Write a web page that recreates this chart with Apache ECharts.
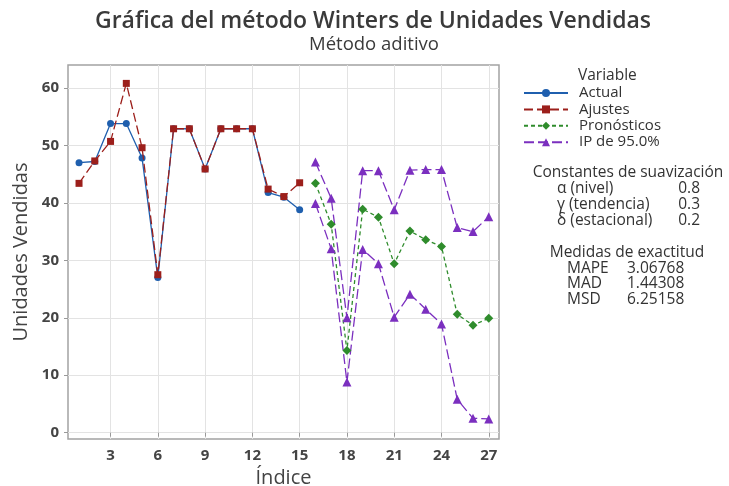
<!DOCTYPE html>
<html>
<head>
<meta charset="utf-8">
<script src="https://cdn.jsdelivr.net/npm/echarts@6/dist/echarts.min.js"></script>
<style>
  html, body { margin: 0; padding: 0; background: #fff; }
  #chart { width: 729px; height: 486px; }
</style>
</head>
<body>
<div id="chart"></div>
<script>
// Observed period (1..15) and forecast horizon (16..27)
const obsIndex = [1, 2, 3, 4, 5, 6, 7, 8, 9, 10, 11, 12, 13, 14, 15];
const fcIndex = [16, 17, 18, 19, 20, 21, 22, 23, 24, 25, 26, 27];

const actual = [47.0, 47.2, 53.8, 53.8, 47.8, 27.0, 52.9, 52.9, 45.9, 52.9, 52.9, 52.9, 41.8, 41.0, 38.8];
const fitted = [43.4, 47.3, 50.7, 60.8, 49.6, 27.5, 52.9, 52.9, 45.9, 52.9, 52.9, 52.9, 42.4, 41.1, 43.5];

const forecast = [43.4, 36.3, 14.3, 38.9, 37.5, 29.4, 35.1, 33.6, 32.4, 20.6, 18.7, 19.9];
const piUpper  = [47.1, 40.8, 20.0, 45.6, 45.6, 38.8, 45.7, 45.8, 45.8, 35.7, 35.0, 37.6];
const piLower  = [39.9, 32.0,  8.8, 31.9, 29.4, 20.1, 24.1, 21.5, 18.9,  5.8,  2.5,  2.4];

const xTicks = [3, 6, 9, 12, 15, 18, 21, 24, 27];
const yTicks = [0, 10, 20, 30, 40, 50, 60];

const smoothingLabels = ['α (nivel)', 'γ (tendencia)', 'δ (estacional)'];
const smoothingValues = ['0.8', '0.3', '0.2'];
const accuracyLabels = ['MAPE', 'MAD', 'MSD'];
const accuracyValues = ['3.06768', '1.44308', '6.25158'];

const FONT = '"Open Sans", "Noto Sans", sans-serif';
const PANEL_FONT = '15.5px ' + FONT;
const C_BLUE = '#1f5fae';
const C_RED = '#9c1f1b';
const C_GREEN = '#2f8c2c';
const C_PURPLE = '#7b2fbf';
const C_TEXT = '#333';

const pairs = (xs, ys) => xs.map((x, i) => [x, ys[i]]);

const chart = echarts.init(document.getElementById('chart'), null, { renderer: 'canvas' });

// Side panel text: smoothing constants and accuracy measures
const panel = [];
const txt = (x, y, text, align) => ({
  type: 'text', x, y,
  style: { text, font: PANEL_FONT, fill: C_TEXT, textAlign: align, textVerticalAlign: 'middle' }
});
panel.push(txt(578, 76, 'Variable', 'left'));
panel.push(txt(628, 173, 'Constantes de suavización', 'center'));
smoothingLabels.forEach((t, i) => {
  const y = 188.5 + i * 15.8;
  panel.push(txt(557, y, t, 'left'));
  panel.push(txt(700, y, smoothingValues[i], 'right'));
});
panel.push(txt(627, 253, 'Medidas de exactitud', 'center'));
accuracyLabels.forEach((t, i) => {
  const y = 268.5 + i * 15.5;
  panel.push(txt(567, y, t, 'left'));
  panel.push(txt(627, y, accuracyValues[i], 'left'));
});

const option = {
  animation: false,
  backgroundColor: '#fff',
  title: [
    { text: 'Gráfica del método Winters de Unidades Vendidas', left: 368, top: 5, textAlign: 'center',
      textStyle: { fontFamily: FONT, fontSize: 23, fontWeight: 600, color: '#3a3a3a' } },
    { text: 'Método aditivo', left: 369, top: 30, textAlign: 'center',
      textStyle: { fontFamily: FONT, fontSize: 18.5, fontWeight: 500, color: '#3a3a3a' } }
  ],
  legend: {
    orient: 'vertical',
    left: 523,
    top: 85,
    padding: 0,
    itemWidth: 44,
    itemHeight: 10,
    itemGap: 0.4,
    data: ['Actual', 'Ajustes', 'Pronósticos', 'IP de 95.0%'],
    textStyle: { fontFamily: FONT, fontSize: 15, color: C_TEXT, padding: [0, 0, 0, 6], lineHeight: 16 }
  },
  graphic: panel,
  grid: {
    left: 68, top: 65, right: 230, bottom: 47,
    outerBoundsMode: 'none',
    show: true, borderColor: '#a3a3a3', borderWidth: 1.5, backgroundColor: '#fff'
  },
  xAxis: {
    type: 'value',
    min: 0.3,
    max: 27.65,
    name: 'Índice',
    nameLocation: 'middle',
    nameGap: 27,
    nameTextStyle: { fontFamily: FONT, fontSize: 20, color: '#444' },
    axisLine: { show: false },
    axisTick: { show: true, length: 4, customValues: xTicks, lineStyle: { color: '#999' } },
    axisLabel: { customValues: xTicks, margin: 9, fontFamily: FONT, fontSize: 15, fontWeight: 'bold', color: '#444' },
    splitLine: { show: true, lineStyle: { color: '#e3e3e3', width: 1 } }
  },
  yAxis: {
    type: 'value',
    min: -1.1,
    max: 64,
    name: 'Unidades Vendidas',
    nameLocation: 'middle',
    nameGap: 33,
    nameTextStyle: { fontFamily: FONT, fontSize: 20, color: '#444' },
    axisLine: { show: false },
    axisTick: { show: true, length: 4, customValues: yTicks, lineStyle: { color: '#999' } },
    axisLabel: { customValues: yTicks, margin: 9, fontFamily: FONT, fontSize: 15, fontWeight: 'bold', color: '#444' },
    splitLine: { show: true, lineStyle: { color: '#e3e3e3', width: 1 } }
  },
  series: [
    {
      name: 'Actual', type: 'line', data: pairs(obsIndex, actual),
      symbol: 'circle', symbolSize: 7, z: 3,
      itemStyle: { color: C_BLUE }, lineStyle: { color: C_BLUE, width: 1.3 }
    },
    {
      name: 'Ajustes', type: 'line', data: pairs(obsIndex, fitted),
      symbol: 'rect', symbolSize: 7, z: 4,
      itemStyle: { color: C_RED }, lineStyle: { color: C_RED, width: 1.3, type: [9, 4] }
    },
    {
      name: 'Pronósticos', type: 'line', data: pairs(fcIndex, forecast),
      symbol: 'diamond', symbolSize: 9, z: 4,
      itemStyle: { color: C_GREEN }, lineStyle: { color: C_GREEN, width: 1.3, type: [4, 3] }
    },
    {
      name: 'IP de 95.0%', type: 'line', data: pairs(fcIndex, piUpper),
      symbol: 'triangle', symbolSize: 9, z: 4,
      itemStyle: { color: C_PURPLE }, lineStyle: { color: C_PURPLE, width: 1.3, type: [10, 4] }
    },
    {
      name: 'IP de 95.0%', type: 'line', data: pairs(fcIndex, piLower),
      symbol: 'triangle', symbolSize: 9, z: 4,
      itemStyle: { color: C_PURPLE }, lineStyle: { color: C_PURPLE, width: 1.3, type: [10, 4] }
    }
  ]
};

chart.setOption(option);
</script>
</body>
</html>
